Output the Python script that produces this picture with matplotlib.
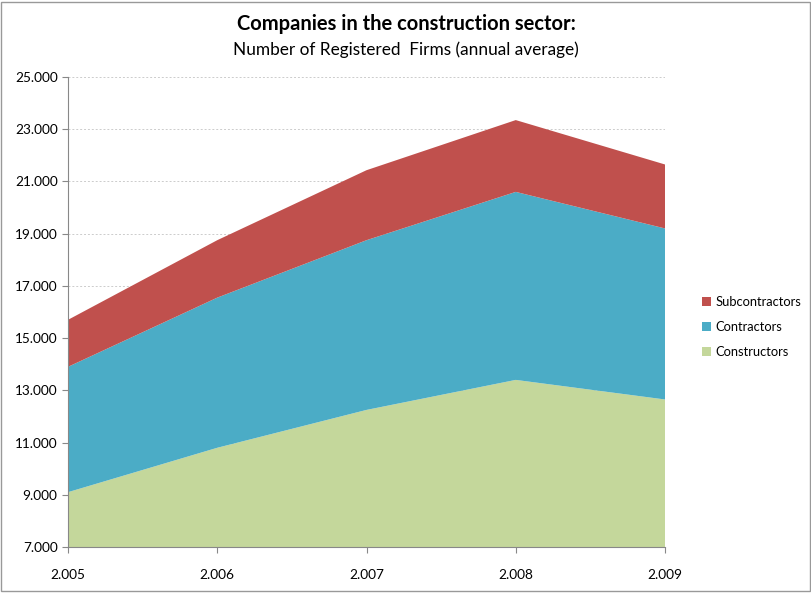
import matplotlib.pyplot as plt
from matplotlib.patches import Rectangle
from matplotlib.ticker import FuncFormatter

years = [2005, 2006, 2007, 2008, 2009]
constructors = [9100, 10800, 12250, 13400, 12650]
contractors = [4800, 5750, 6500, 7200, 6550]
subcontractors = [1800, 2200, 2680, 2750, 2450]
labels = ['Constructors', 'Contractors', 'Subcontractors']
colors = ['#C4D79B', '#4BACC6', '#C0504D']

plt.rcParams['font.family'] = ['Lato', 'DejaVu Sans']

def dotted_thousands(v, pos):
    return '{:,.0f}'.format(v).replace(',', '.')

fig = plt.figure(figsize=(8.12, 5.93), dpi=100)
ax = fig.add_axes([68/812, 1-547/593, (665-68)/812, (547-77)/593])

polys = ax.stackplot(years, constructors, contractors, subcontractors,
                     colors=colors, labels=labels, linewidth=0)

ax.set_xlim(2005, 2009)
ax.set_ylim(7000, 25000)
ax.set_xticks(years)
ax.set_yticks(range(7000, 25001, 2000))
ax.xaxis.set_major_formatter(FuncFormatter(dotted_thousands))
ax.yaxis.set_major_formatter(FuncFormatter(dotted_thousands))
ax.tick_params(labelsize=9.8, color='#888888', length=4, direction='out')
ax.tick_params(axis='x', pad=12)
for side in ['top', 'right']:
    ax.spines[side].set_visible(False)
for side in ['left', 'bottom']:
    ax.spines[side].set_color('#888888')
ax.grid(axis='y', color='#cccccc', linestyle=(0, (2, 2)), linewidth=0.7)
ax.set_axisbelow(True)

h, l = ax.get_legend_handles_labels()
ax.legend(h[::-1], l[::-1], loc='center left', bbox_to_anchor=(690/812, 1-327/593),
          bbox_transform=fig.transFigure, frameon=False, fontsize=9.3,
          handlelength=0.7, handleheight=0.7, handletextpad=0.4, labelspacing=1.0)

fig.text(0.5, 1-24/593, 'Companies in the construction sector:', ha='center',
         va='center', fontsize=14.5, fontweight='bold')
fig.text(0.5, 1-50/593, 'Number of Registered  Firms (annual average)', ha='center',
         va='center', fontsize=12.4)

fig.patches.append(Rectangle((0.001, 0.004), 0.996, 0.993, transform=fig.transFigure,
                             fill=False, edgecolor='#999999', linewidth=1))

fig.savefig('out.png', dpi=100)
